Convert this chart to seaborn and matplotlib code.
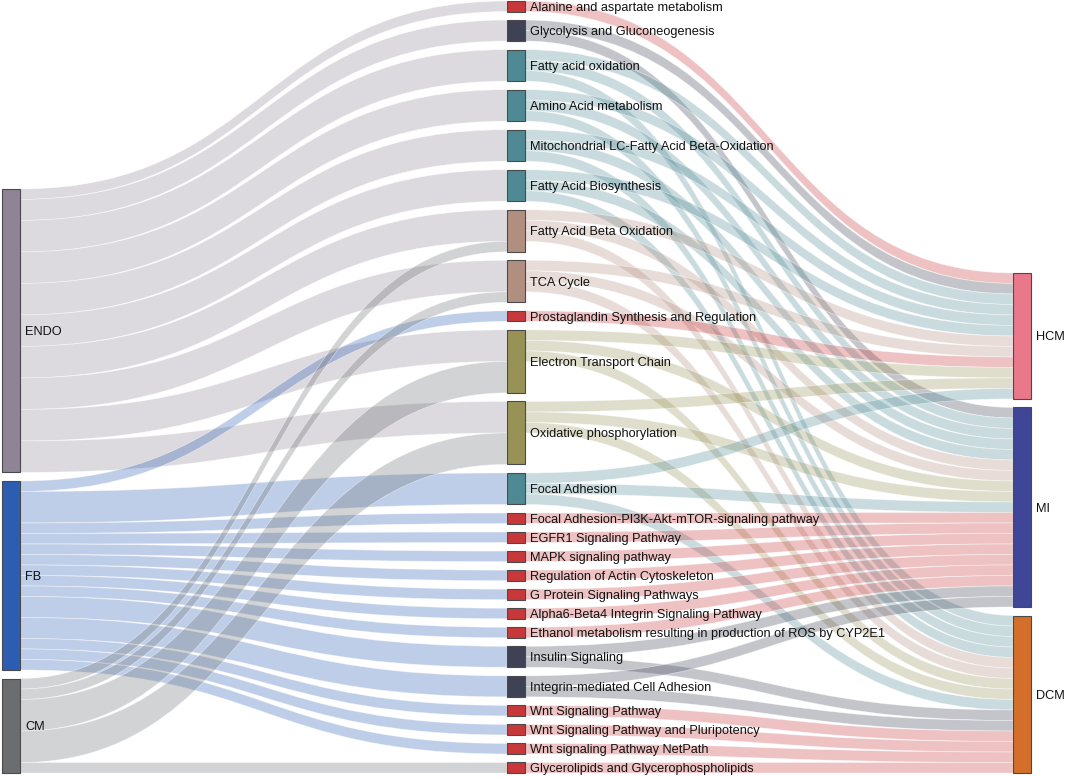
import matplotlib
matplotlib.use("Agg")
import matplotlib.pyplot as plt
from matplotlib.path import Path
from matplotlib.patches import PathPatch, Rectangle
from matplotlib.colors import to_rgb
import seaborn as sns

# ---------------- data ----------------
cell_types = ["ENDO", "FB", "CM"]
pathways = [
    "Alanine and aspartate metabolism",
    "Glycolysis and Gluconeogenesis",
    "Fatty acid oxidation",
    "Amino Acid metabolism",
    "Mitochondrial LC-Fatty Acid Beta-Oxidation",
    "Fatty Acid Biosynthesis",
    "Fatty Acid Beta Oxidation",
    "TCA Cycle",
    "Prostaglandin Synthesis and Regulation",
    "Electron Transport Chain",
    "Oxidative phosphorylation",
    "Focal Adhesion",
    "Focal Adhesion-PI3K-Akt-mTOR-signaling pathway",
    "EGFR1 Signaling Pathway",
    "MAPK signaling pathway",
    "Regulation of Actin Cytoskeleton",
    "G Protein Signaling Pathways",
    "Alpha6-Beta4 Integrin Signaling Pathway",
    "Ethanol metabolism resulting in production of ROS by CYP2E1",
    "Insulin Signaling",
    "Integrin-mediated Cell Adhesion",
    "Wnt Signaling Pathway",
    "Wnt Signaling Pathway and Pluripotency",
    "Wnt signaling Pathway NetPath",
    "Glycerolipids and Glycerophospholipids",
]
diseases = ["HCM", "MI", "DCM"]

# cell type -> pathway links
cell_src = (["ENDO"] * 10) + (["FB"] * 14) + (["CM"] * 5)
cell_tgt = [
    "Alanine and aspartate metabolism", "Glycolysis and Gluconeogenesis",
    "Fatty acid oxidation", "Amino Acid metabolism",
    "Mitochondrial LC-Fatty Acid Beta-Oxidation", "Fatty Acid Biosynthesis",
    "Fatty Acid Beta Oxidation", "TCA Cycle", "Electron Transport Chain",
    "Oxidative phosphorylation",
    "Prostaglandin Synthesis and Regulation", "Focal Adhesion",
    "Focal Adhesion-PI3K-Akt-mTOR-signaling pathway", "EGFR1 Signaling Pathway",
    "MAPK signaling pathway", "Regulation of Actin Cytoskeleton",
    "G Protein Signaling Pathways", "Alpha6-Beta4 Integrin Signaling Pathway",
    "Ethanol metabolism resulting in production of ROS by CYP2E1",
    "Insulin Signaling", "Integrin-mediated Cell Adhesion",
    "Wnt Signaling Pathway", "Wnt Signaling Pathway and Pluripotency",
    "Wnt signaling Pathway NetPath",
    "Fatty Acid Beta Oxidation", "TCA Cycle", "Electron Transport Chain",
    "Oxidative phosphorylation", "Glycerolipids and Glycerophospholipids",
]
cell_val = [1, 2, 3, 3, 3, 3, 3, 3, 3, 3,
            1, 3, 1, 1, 1, 1, 1, 1, 1, 2, 2, 1, 1, 1,
            1, 1, 3, 3, 1]

# pathway -> disease links (value 1 each)
dis_src = [
    "Alanine and aspartate metabolism",
    "Glycolysis and Gluconeogenesis", "Glycolysis and Gluconeogenesis",
    "Fatty acid oxidation", "Fatty acid oxidation", "Fatty acid oxidation",
    "Amino Acid metabolism", "Amino Acid metabolism", "Amino Acid metabolism",
    "Mitochondrial LC-Fatty Acid Beta-Oxidation", "Mitochondrial LC-Fatty Acid Beta-Oxidation",
    "Mitochondrial LC-Fatty Acid Beta-Oxidation",
    "Fatty Acid Biosynthesis", "Fatty Acid Biosynthesis", "Fatty Acid Biosynthesis",
    "Fatty Acid Beta Oxidation", "Fatty Acid Beta Oxidation", "Fatty Acid Beta Oxidation",
    "TCA Cycle", "TCA Cycle", "TCA Cycle",
    "Prostaglandin Synthesis and Regulation",
    "Electron Transport Chain", "Electron Transport Chain", "Electron Transport Chain",
    "Oxidative phosphorylation", "Oxidative phosphorylation", "Oxidative phosphorylation",
    "Focal Adhesion", "Focal Adhesion", "Focal Adhesion",
    "Focal Adhesion-PI3K-Akt-mTOR-signaling pathway", "EGFR1 Signaling Pathway",
    "MAPK signaling pathway", "Regulation of Actin Cytoskeleton",
    "G Protein Signaling Pathways", "Alpha6-Beta4 Integrin Signaling Pathway",
    "Ethanol metabolism resulting in production of ROS by CYP2E1",
    "Insulin Signaling", "Insulin Signaling",
    "Integrin-mediated Cell Adhesion", "Integrin-mediated Cell Adhesion",
    "Wnt Signaling Pathway", "Wnt Signaling Pathway and Pluripotency",
    "Wnt signaling Pathway NetPath", "Glycerolipids and Glycerophospholipids",
]
dis_tgt = [
    "HCM",
    "HCM", "MI",
    "HCM", "MI", "DCM",
    "HCM", "MI", "DCM",
    "HCM", "MI", "DCM",
    "HCM", "MI", "DCM",
    "HCM", "MI", "DCM",
    "HCM", "MI", "DCM",
    "HCM",
    "HCM", "MI", "DCM",
    "HCM", "MI", "DCM",
    "HCM", "MI", "DCM",
    "MI", "MI", "MI", "MI", "MI", "MI", "MI",
    "MI", "DCM",
    "MI", "DCM",
    "DCM", "DCM", "DCM", "DCM",
]
dis_val = [1] * len(dis_src)

# node colours
RED, SLATE, TEAL, BROWN, OLIVE = "#c8373a", "#3e4254", "#4f8a94", "#b08e80", "#979356"
cell_colors = ["#8e8496", "#2c5db3", "#6b6e71"]
pathway_colors = [RED, SLATE, TEAL, TEAL, TEAL, TEAL, BROWN, BROWN, RED, OLIVE, OLIVE,
                  TEAL, RED, RED, RED, RED, RED, RED, RED, SLATE, SLATE, RED, RED, RED, RED]
disease_colors = ["#e8788a", "#3f4597", "#d46e2b"]

# ---------------- layout ----------------
sns.set_theme(style="white")
plt.rcParams["font.family"] = ["Liberation Sans", "DejaVu Sans"]

KY = 10.5        # pixels per unit
PAD = 8.54       # vertical gap between nodes
BOTTOM = 773.0
NODE_W = 18.0
COL_X = [2.0, 507.0, 1013.0]

columns = [cell_types, pathways, diseases]
colors = {}
for names, cols in zip(columns, [cell_colors, pathway_colors, disease_colors]):
    for n, c in zip(names, cols):
        colors[n] = c

links = [(s, t, v) for s, t, v in zip(cell_src, cell_tgt, cell_val)] + \
        [(s, t, v) for s, t, v in zip(dis_src, dis_tgt, dis_val)]

inflow, outflow = {}, {}
for s, t, v in links:
    outflow[s] = outflow.get(s, 0) + v
    inflow[t] = inflow.get(t, 0) + v

node = {}
for ci, names in enumerate(columns):
    vals = [max(inflow.get(n, 0), outflow.get(n, 0)) for n in names]
    total = sum(vals) * KY + (len(names) - 1) * PAD
    y = BOTTOM - total
    for n, v in zip(names, vals):
        node[n] = dict(x=COL_X[ci], y0=y, y1=y + v * KY, col=ci)
        y += v * KY + PAD

# link positions at each node
out_off = {n: node[n]["y0"] for n in node}
in_off = {n: node[n]["y0"] for n in node}
link_geo = {}
for s in node:
    outs = sorted([l for l in links if l[0] == s], key=lambda l: node[l[1]]["y0"])
    for l in outs:
        link_geo.setdefault(id(l), {})["s"] = out_off[s]
        out_off[s] += l[2] * KY
for t in node:
    ins = sorted([l for l in links if l[1] == t], key=lambda l: node[l[0]]["y0"])
    for l in ins:
        link_geo.setdefault(id(l), {})["t"] = in_off[t]
        in_off[t] += l[2] * KY

# ---------------- draw ----------------
fig = plt.figure(figsize=(10.65, 7.77), dpi=100)
ax = fig.add_axes([0, 0, 1, 1])
ax.set_xlim(0, 1065)
ax.set_ylim(777, 0)
ax.axis("off")

for l in links:
    s, t, v = l
    g = link_geo[id(l)]
    x0 = node[s]["x"] + NODE_W
    x1 = node[t]["x"]
    xm = (x0 + x1) / 2
    sy0, ty0 = g["s"], g["t"]
    sy1, ty1 = sy0 + v * KY, ty0 + v * KY
    verts = [(x0, sy0), (xm, sy0), (xm, ty0), (x1, ty0), (x1, ty1),
             (xm, ty1), (xm, sy1), (x0, sy1), (x0, sy0)]
    codes = [Path.MOVETO, Path.CURVE4, Path.CURVE4, Path.CURVE4, Path.LINETO,
             Path.CURVE4, Path.CURVE4, Path.CURVE4, Path.CLOSEPOLY]
    r, gg, b = to_rgb(colors[s])
    ax.add_patch(PathPatch(Path(verts, codes), facecolor=(r, gg, b, 0.30),
                           edgecolor=(1, 1, 1, 0.5), lw=0.5, zorder=1))

for n, d in node.items():
    ax.add_patch(Rectangle((d["x"], d["y0"]), NODE_W, d["y1"] - d["y0"],
                           facecolor=colors[n], edgecolor="#4a4a4a", lw=0.8, zorder=3))
    ax.text(d["x"] + NODE_W + 5, (d["y0"] + d["y1"]) / 2 + 1.5, n, fontsize=9.2,
            va="center", ha="left", color="#111111", zorder=4)

fig.savefig("out.png", dpi=100)
